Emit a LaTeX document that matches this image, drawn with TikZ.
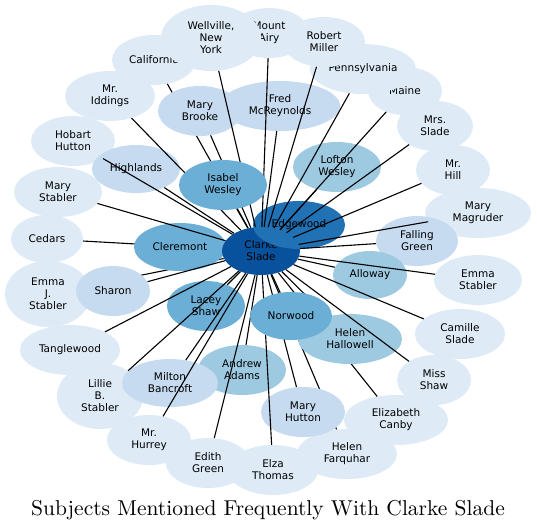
\documentclass[tikz,border=0pt]{standalone}
\usepackage{fontspec}
\usepackage{graphicx}
\usepackage{tikz}
\usetikzlibrary{shapes.geometric}
\newfontfamily\labelfont{DejaVu Sans}

\definecolor{blueA}{HTML}{DEEBF7}
\definecolor{blueB}{HTML}{C6DBEF}
\definecolor{blueC}{HTML}{9ECAE1}
\definecolor{blueD}{HTML}{6BAED6}
\definecolor{blueE}{HTML}{2171B5}
\definecolor{blueF}{HTML}{08519C}

\pgfdeclarelayer{outer}
\pgfdeclarelayer{under}
\pgfdeclarelayer{inner}
\pgfdeclarelayer{over}
\pgfdeclarelayer{front}
\pgfsetlayers{outer,under,inner,over,front,main}

\begin{document}
\begin{tikzpicture}[x=1pt, y=-1pt,
    subj/.style={ellipse, inner sep=0pt, align=center,
        font=\labelfont\fontsize{10.5}{12}\selectfont},
    link/.style={line width=1.1pt, black}]
    \useasboundingbox (0,0) rectangle (537,531);

    % Outer ring of subjects
    \begin{pgfonlayer}{outer}
    \node[subj, fill=blueA, minimum width=84, minimum height=50] (california) at (154,60) {California};
    \node[subj, fill=blueA, minimum width=80, minimum height=50] (mountairy) at (269,33) {Mount\\Airy};
    \node[subj, fill=blueA, minimum width=100, minimum height=66] (wellville) at (211,38) {Wellville,\\New\\York};
    \node[subj, fill=blueA, minimum width=74, minimum height=48] (maine) at (405,91) {Maine};
    \node[subj, fill=blueA, minimum width=106, minimum height=50] (pennsylvania) at (363,69) {Pennsylvania};
    \node[subj, fill=blueA, minimum width=82, minimum height=50] (robertmiller) at (324,42) {Robert\\Miller};
    \node[subj, fill=blueA, minimum width=90, minimum height=50] (iddings) at (110,96) {Mr.\\Iddings};
    \node[subj, fill=blueA, minimum width=84, minimum height=50] (hobart) at (73,141) {Hobart\\Hutton};
    \node[subj, fill=blueA, minimum width=88, minimum height=50] (marystabler) at (58,192) {Mary\\Stabler};
    \node[subj, fill=blueA, minimum width=72, minimum height=48] (cedars) at (47,239) {Cedars};
    \node[subj, fill=blueA, minimum width=86, minimum height=66] (emmaj) at (48,294) {Emma\\J.\\Stabler};
    \node[subj, fill=blueA, minimum width=100, minimum height=50] (tanglewood) at (70,350) {Tanglewood};
    \node[subj, fill=blueA, minimum width=86, minimum height=66] (lillie) at (100,396) {Lillie\\B.\\Stabler};
    \node[subj, fill=blueA, minimum width=84, minimum height=50] (hurrey) at (149,440) {Mr.\\Hurrey};
    \node[subj, fill=blueA, minimum width=84, minimum height=50] (edith) at (208,463) {Edith\\Green};
    \node[subj, fill=blueA, minimum width=90, minimum height=50] (elza) at (273,470) {Elza\\Thomas};
    \node[subj, fill=blueA, minimum width=100, minimum height=50] (farquhar) at (347,454) {Helen\\Farquhar};
    \node[subj, fill=blueA, minimum width=104, minimum height=50] (canby) at (396,420) {Elizabeth\\Canby};
    \node[subj, fill=blueA, minimum width=74, minimum height=50] (missshaw) at (434,380) {Miss\\Shaw};
    \node[subj, fill=blueA, minimum width=90, minimum height=50] (camille) at (460,334) {Camille\\Slade};
    \node[subj, fill=blueA, minimum width=88, minimum height=50] (emmastabler) at (478,280) {Emma\\Stabler};
    \node[subj, fill=blueA, minimum width=106, minimum height=50] (magruder) at (478,213) {Mary\\Magruder};
    \node[subj, fill=blueA, minimum width=74, minimum height=50] (mrhill) at (453,170) {Mr.\\Hill};
    \node[subj, fill=blueA, minimum width=76, minimum height=50] (mrsslade) at (435,126) {Mrs.\\Slade};
    \end{pgfonlayer}

    % Inner subjects and the hub
    \begin{pgfonlayer}{inner}
    \node[subj, fill=blueB, minimum width=120, minimum height=50] (fred) at (280,106) {Fred\\McReynolds};
    \node[subj, fill=blueB, minimum width=84, minimum height=50] (marybrooke) at (200,111) {Mary\\Brooke};
    \node[subj, fill=blueB, minimum width=88, minimum height=48] (highlands) at (136,169) {Highlands};
    \node[subj, fill=blueC, minimum width=88, minimum height=50] (lofton) at (337,167) {Lofton\\Wesley};
    \node[subj, fill=blueD, minimum width=92, minimum height=48] (cleremont) at (180,247) {Cleremont};
    \node[subj, fill=blueF, minimum width=78, minimum height=48] (clarke) at (261,251) {Clarke\\Slade};
    \node[subj, fill=blueE, minimum width=92, minimum height=48] (edgewood) at (299,225) {Edgewood};
    \node[subj, fill=blueB, minimum width=82, minimum height=50] (falling) at (417,241) {Falling\\Green};
    \node[subj, fill=blueC, minimum width=74, minimum height=48] (alloway) at (370,275) {Alloway};
    \node[subj, fill=blueB, minimum width=74, minimum height=50] (sharon) at (113,291) {Sharon};
    \node[subj, fill=blueD, minimum width=78, minimum height=50] (lacey) at (206,306) {Lacey\\Shaw};
    \node[subj, fill=blueC, minimum width=88, minimum height=50] (andrew) at (242,370) {Andrew\\Adams};
    \node[subj, fill=blueC, minimum width=104, minimum height=50] (hallowell) at (350,339) {Helen\\Hallowell};
    \node[subj, fill=blueB, minimum width=96, minimum height=48] (milton) at (170,383) {Milton\\Bancroft};
    \node[subj, fill=blueB, minimum width=84, minimum height=50] (maryhutton) at (303,412) {Mary\\Hutton};
    \end{pgfonlayer}

    \begin{pgfonlayer}{front}
    \node[subj, fill=blueD, minimum width=88, minimum height=50] (isabel) at (223,185) {Isabel\\Wesley};
    \node[subj, fill=blueD, minimum width=82, minimum height=48] (norwood) at (291,316) {Norwood};
    \end{pgfonlayer}

    % Links hidden behind the inner subjects
    \begin{pgfonlayer}{under}
    \foreach \s in {california, cedars, emmaj, farquhar, canby, cleremont, edgewood}
        \draw[link] (clarke) -- (\s);
    \end{pgfonlayer}

    % Links drawn across the inner subjects
    \begin{pgfonlayer}{over}
    \foreach \s in {mountairy, wellville, maine, pennsylvania, robertmiller, iddings,
        hobart, marystabler, tanglewood, lillie, hurrey, edith, elza, missshaw,
        camille, emmastabler, magruder, mrhill, mrsslade, fred, marybrooke,
        highlands, lofton, falling, alloway, sharon, lacey, andrew, hallowell,
        milton, maryhutton, isabel, norwood}
        \draw[link] (clarke) -- (\s);
    \end{pgfonlayer}

    \node[inner sep=0pt] (title) at (268,510) {\scalebox{2.15}{\fontsize{10}{12}\selectfont Subjects Mentioned Frequently With Clarke Slade}};
\end{tikzpicture}
\end{document}
